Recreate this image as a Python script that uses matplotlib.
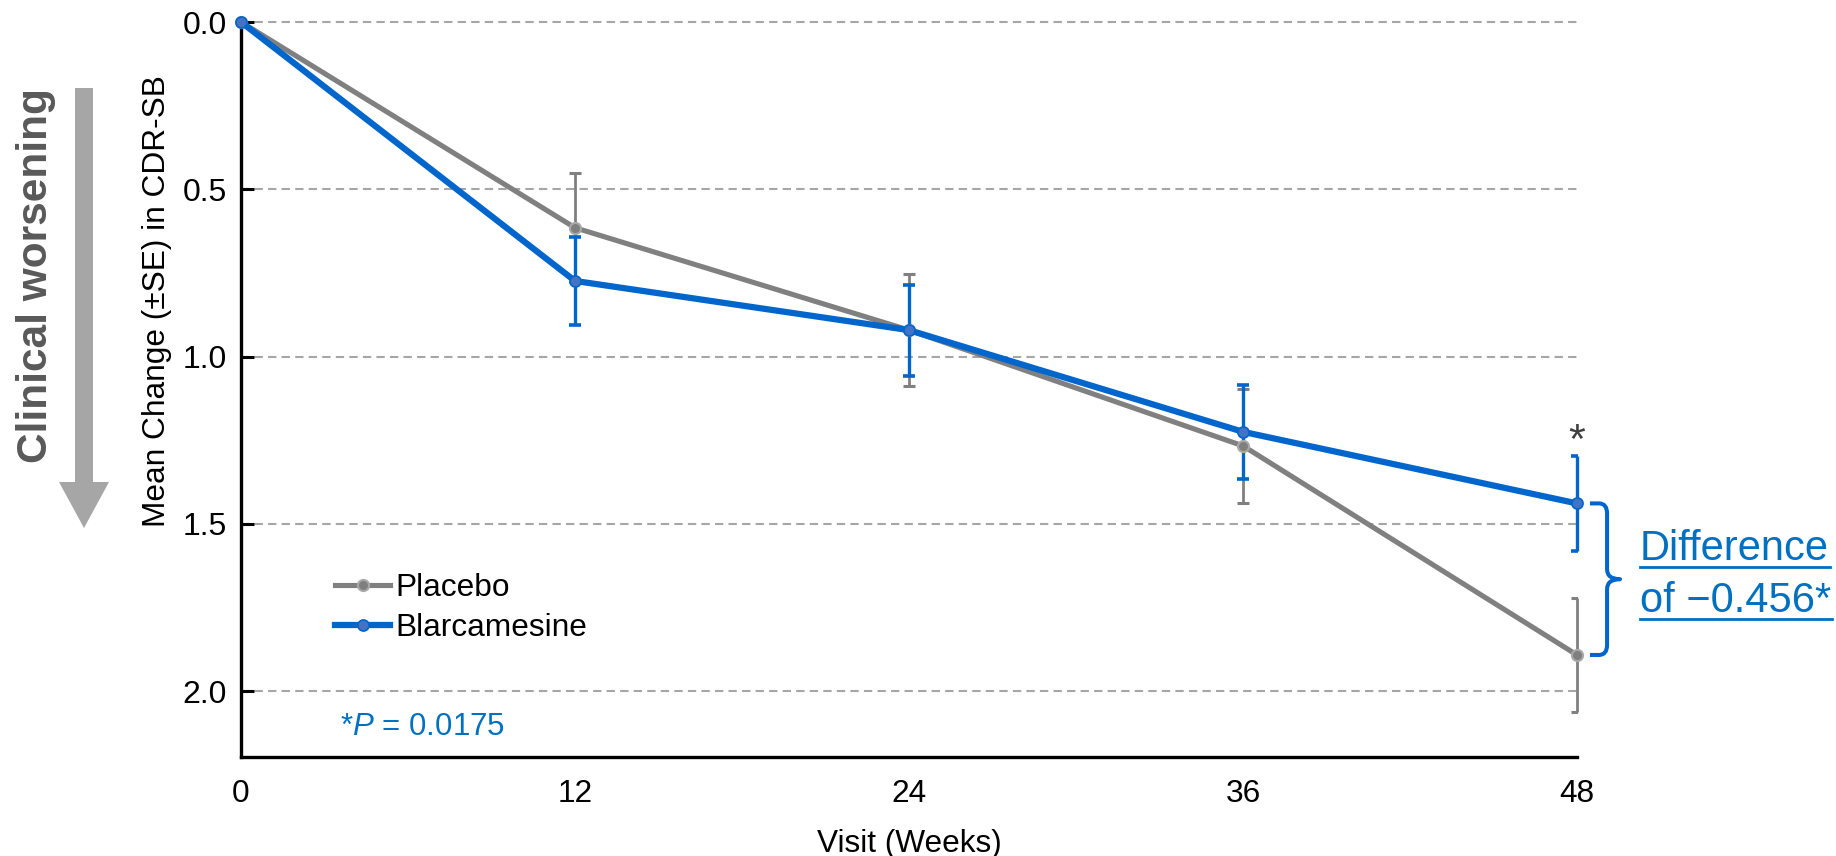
import matplotlib
matplotlib.use('Agg')
import matplotlib.pyplot as plt
import matplotlib.transforms as mtransforms
from matplotlib.patches import FancyArrow, PathPatch
from matplotlib.path import Path
from matplotlib.lines import Line2D

plt.rcParams.update({
    'font.family': ['Liberation Sans', 'DejaVu Sans'],
    'mathtext.fontset': 'custom',
    'mathtext.rm': 'Liberation Sans',
    'mathtext.it': 'Liberation Sans:italic',
    'font.size': 22.5,
})

# ----- Data -----
weeks = [0, 12, 24, 36, 48]
placebo_mean = [0.0, 0.615, 0.921, 1.267, 1.892]
placebo_se = [0.0, 0.163, 0.167, 0.171, 0.171]
blarc_mean = [0.0, 0.774, 0.921, 1.225, 1.439]
blarc_se = [0.0, 0.132, 0.136, 0.140, 0.142]
y_ticks = [0.0, 0.5, 1.0, 1.5, 2.0]

GRAY = '#808080'
BLUE = '#0066CC'
TEXT_BLUE = '#0070C0'

W, H = 1836, 856
fig = plt.figure(figsize=(W / 100, H / 100), dpi=100)


def fx(px):
    return px / W


def fy(py):
    return 1 - py / H


ax = fig.add_axes([fx(241), fy(757), fx(1577) - fx(241), fy(22) - fy(757)])

# error bars (drawn under the lines), caps clipped at the right edge
for mean, se, col, lw, z in [(placebo_mean, placebo_se, GRAY, 2.0, 2),
                             (blarc_mean, blarc_se, BLUE, 2.4, 3)]:
    eb = ax.errorbar(weeks[1:], mean[1:], yerr=se[1:], fmt='none', ecolor=col,
                     elinewidth=lw, capsize=4.5, capthick=lw + 0.2, zorder=z)
    for cap in eb[1]:
        cap.set_clip_on(True)
    for bar in eb[2]:
        bar.set_clip_on(False)

pl, = ax.plot(weeks, placebo_mean, color=GRAY, lw=3.7, marker='o', ms=8,
              mfc='#7F7F7F', mec='#A8A8A8', mew=1.5, label='Placebo',
              zorder=4, clip_on=False)
bl, = ax.plot(weeks, blarc_mean, color=BLUE, lw=4.5, marker='o', ms=8,
              mfc='#4472C4', mec=BLUE, mew=1.2, label='Blarcamesine',
              zorder=5, clip_on=False)

ax.set_xlim(0, 48)
ax.set_ylim(2.197, 0)
ax.set_xticks(weeks)
ax.set_xticklabels([str(w) for w in weeks])
ax.set_yticks(y_ticks)
ax.set_yticklabels([f'{v:.1f}' for v in y_ticks])
ax.tick_params(axis='x', length=0, pad=16, labelsize=22.8)
ax.tick_params(axis='y', direction='in', length=9, width=2.2, pad=10,
               labelsize=23)

ax.grid(axis='y', color='#A6A6A6', linestyle=(0, (4, 2.5)), linewidth=1.5)
ax.set_axisbelow(True)
for gl in ax.get_ygridlines():
    gl.set_clip_on(False)

for side in ['top', 'right']:
    ax.spines[side].set_visible(False)
for side in ['left', 'bottom']:
    ax.spines[side].set_linewidth(2.4)
    ax.spines[side].set_color('black')

ax.set_xlabel('Visit (Weeks)', fontsize=22.8, labelpad=14)
ax.set_ylabel('Mean Change (\u00b1SE) in CDR-SB', fontsize=22.8)
ax.yaxis.set_label_coords(-0.052, 0.62)

leg = ax.legend(handles=[pl, bl], loc='center left',
                bbox_to_anchor=((335 - 241) / 1336, (757 - 608) / 735),
                frameon=False, fontsize=22.8, handlelength=1.75,
                handletextpad=0.15, labelspacing=0.32, borderpad=0,
                borderaxespad=0)

ax.text((340 - 241) / 1336, (757 - 727) / 735, '*$P$ = 0.0175',
        transform=ax.transAxes, color=TEXT_BLUE, fontsize=22.5,
        ha='left', va='center')

# significance star above the blarcamesine bar at week 48
ax.annotate('*', xy=(weeks[-1], blarc_mean[-1] - blarc_se[-1]),
            xytext=(0, 2), textcoords='offset points', ha='center',
            va='baseline', fontsize=31, color='#404040',
            annotation_clip=False)

# curly bracket spanning the week-48 difference
trans = mtransforms.blended_transform_factory(ax.transAxes, ax.transData)
ytop, ybot = blarc_mean[-1], placebo_mean[-1]
ymid = (ytop + ybot) / 2
x0, x1, x2 = 1.0097, 1.0225, 1.0322
rx, ry = 0.006, 0.03
verts = [(x0, ytop), (x1 - rx, ytop), (x1, ytop), (x1, ytop + ry),
         (x1, ymid - ry), (x1, ymid), (x2, ymid),
         (x1, ymid), (x1, ymid + ry),
         (x1, ybot - ry), (x1, ybot), (x1 - rx, ybot), (x0, ybot)]
codes = [Path.MOVETO, Path.LINETO, Path.CURVE3, Path.CURVE3,
         Path.LINETO, Path.CURVE3, Path.CURVE3,
         Path.CURVE3, Path.CURVE3,
         Path.LINETO, Path.CURVE3, Path.CURVE3, Path.LINETO]
ax.add_patch(PathPatch(Path(verts, codes), transform=trans, fill=False,
                       edgecolor=BLUE, lw=2.9, clip_on=False,
                       capstyle='butt', joinstyle='round'))

# underlined difference label
fig.canvas.draw()
renderer = fig.canvas.get_renderer()
for txt, base in [('Difference', 560), ('of \u22120.456*', 612)]:
    t = fig.text(fx(1640), fy(base), txt, color=TEXT_BLUE, fontsize=30,
                 ha='left', va='baseline')
    bb = t.get_window_extent(renderer)
    uy = fy(base + 7)
    fig.add_artist(Line2D([fx(1640), bb.x1 / W + 0.0005], [uy, uy],
                          color=TEXT_BLUE, lw=2, transform=fig.transFigure))

# "Clinical worsening" arrow and text
arrow = FancyArrow(0.84, (H - 88) / 100, 0, -(528 - 88) / 100,
                   width=0.18, head_width=0.50, head_length=0.46,
                   length_includes_head=True, color='#A6A6A6', lw=0,
                   transform=fig.dpi_scale_trans)
fig.add_artist(arrow)
fig.text(fx(36), fy(276), 'Clinical worsening', rotation=90, fontsize=30.5,
         fontweight='bold', color='#595959', ha='center', va='center')

fig.savefig('out.png', dpi=100)
